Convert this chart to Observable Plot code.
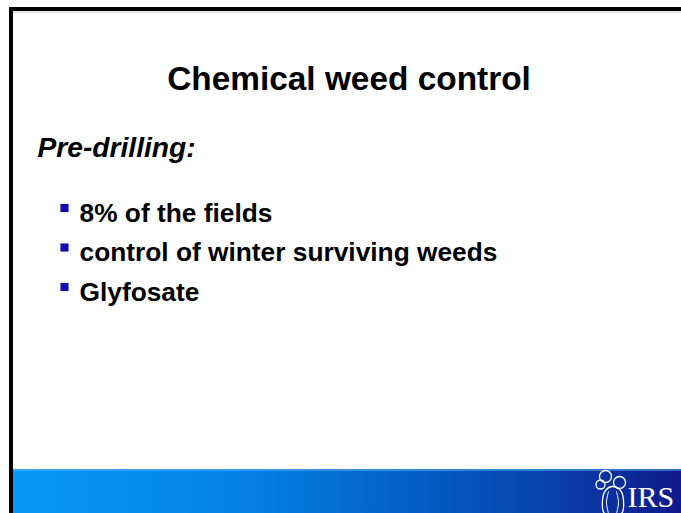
<!DOCTYPE html>
<html>
<head>
<meta charset="utf-8">
<script src="https://cdn.jsdelivr.net/npm/d3@7"></script>
<script src="https://cdn.jsdelivr.net/npm/@observablehq/plot@0.6"></script>
<style>
html, body { margin: 0; padding: 0; background: #ffffff; overflow: hidden; }
#chart svg { display: block; }
</style>
</head>
<body>
<div id="chart"></div>
<script>
// ---- content ----
const titleText = ["Chemical weed control"];
const sectionText = ["Pre-drilling:"];
const bulletItems = ["8% of the fields", "control of winter surviving weeds", "Glyfosate"];
const logoText = ["IRS"];

// ---- layout (slide coordinates, px) ----
const W = 681, H = 513;
const frame = {left: 9, top: 7, thick: 4};
const band = {top: 469};
const titlePos = {x: 348.5, baseline: 89, size: 33.4};
const sectionPos = {x: 37, baseline: 156, size: 28.2};
const bulletPos = {markX: 64, textX: 79, firstBaseline: 221, step: 39.5, size: 26.3};
const logoPos = {x: 627, baseline: 506, size: 30};
const beetBody = [[612,486],[620,490],[623,500],[621,513],[604,513],[602,500],[605,490]];
const beetRibL = [[608,491],[606,502],[608,513]];
const beetRibR = [[616,491],[618,502],[616,513]];
const beetLeaves = [{x: 605, y: 476, r: 6}, {x: 600, y: 484, r: 4.5}, {x: 619, y: 482, r: 6}];

const bulletRows = bulletItems.map((t, i) => ({
  text: t,
  y: bulletPos.firstBaseline + i * bulletPos.step
}));

const font = "Liberation Sans, Arial, Helvetica, sans-serif";

const chart = Plot.plot({
  width: W,
  height: H,
  margin: 0,
  x: {domain: [0, W], range: [0, W], axis: null},
  y: {domain: [0, H], range: [0, H], axis: null},
  r: {type: "identity"},
  style: {background: "#ffffff", overflow: "hidden"},
  marks: [
    // bottom gradient band
    Plot.rect([band], {x1: frame.left + frame.thick, x2: W, y1: d => d.top, y2: H, fill: "url(#bandGrad)"}),
    Plot.ruleY([band.top + 0.5], {x1: frame.left + frame.thick, x2: W, stroke: "#5ab8ff", strokeWidth: 1}),
    // frame
    Plot.rect([frame], {x1: d => d.left, x2: W, y1: d => d.top, y2: d => d.top + d.thick, fill: "#000"}),
    Plot.rect([frame], {x1: d => d.left, x2: d => d.left + d.thick, y1: d => d.top, y2: H, fill: "#000"}),
    Plot.ruleY([frame.top + frame.thick + 0.5], {x1: frame.left + frame.thick, x2: W, stroke: "#c8c8c8", strokeWidth: 1}),
    // title
    Plot.text(titleText, {x: titlePos.x, y: titlePos.baseline, text: d => d, lineAnchor: "bottom",
      textAnchor: "middle", fontSize: titlePos.size, fontWeight: "bold", fontFamily: font, fill: "#000"}),
    // section heading
    Plot.text(sectionText, {x: sectionPos.x, y: sectionPos.baseline, text: d => d, lineAnchor: "bottom",
      textAnchor: "start", fontSize: sectionPos.size, fontWeight: "bold", fontStyle: "italic", fontFamily: font, fill: "#000"}),
    // bullets
    Plot.dot(bulletRows, {x: bulletPos.markX, y: d => d.y - 13.5, symbol: "square", r: 4.6, fill: "#1010b0", stroke: null}),
    Plot.text(bulletRows, {x: bulletPos.textX, y: "y", text: "text", lineAnchor: "bottom",
      textAnchor: "start", fontSize: bulletPos.size, fontWeight: "bold", fontFamily: font, fill: "#000"}),
    // logo
    Plot.line(beetBody, {x: d => d[0], y: d => d[1], curve: "catmull-rom-closed", stroke: "#fff", strokeWidth: 1.3, fill: "none"}),
    Plot.line(beetRibL, {x: d => d[0], y: d => d[1], curve: "catmull-rom", stroke: "#fff", strokeWidth: 1}),
    Plot.line(beetRibR, {x: d => d[0], y: d => d[1], curve: "catmull-rom", stroke: "#fff", strokeWidth: 1}),
    Plot.dot(beetLeaves, {x: "x", y: "y", r: "r", stroke: "#fff", strokeWidth: 1.3, fill: "none"}),
    Plot.text(logoText, {x: logoPos.x, y: logoPos.baseline, text: d => d, lineAnchor: "bottom",
      textAnchor: "start", fontSize: logoPos.size, fontFamily: "Liberation Serif, Times New Roman, serif", fill: "#fff"})
  ]
});

chart.insertAdjacentHTML("afterbegin",
  `<defs><linearGradient id="bandGrad" x1="0" x2="1" y1="0" y2="0">
     <stop offset="0" stop-color="#0898f8"/>
     <stop offset="0.35" stop-color="#0380e6"/>
     <stop offset="0.65" stop-color="#0358bf"/>
     <stop offset="0.85" stop-color="#0a3aa4"/>
     <stop offset="1" stop-color="#10188a"/>
   </linearGradient></defs>`);
document.getElementById("chart").appendChild(chart);
</script>
</body>
</html>
